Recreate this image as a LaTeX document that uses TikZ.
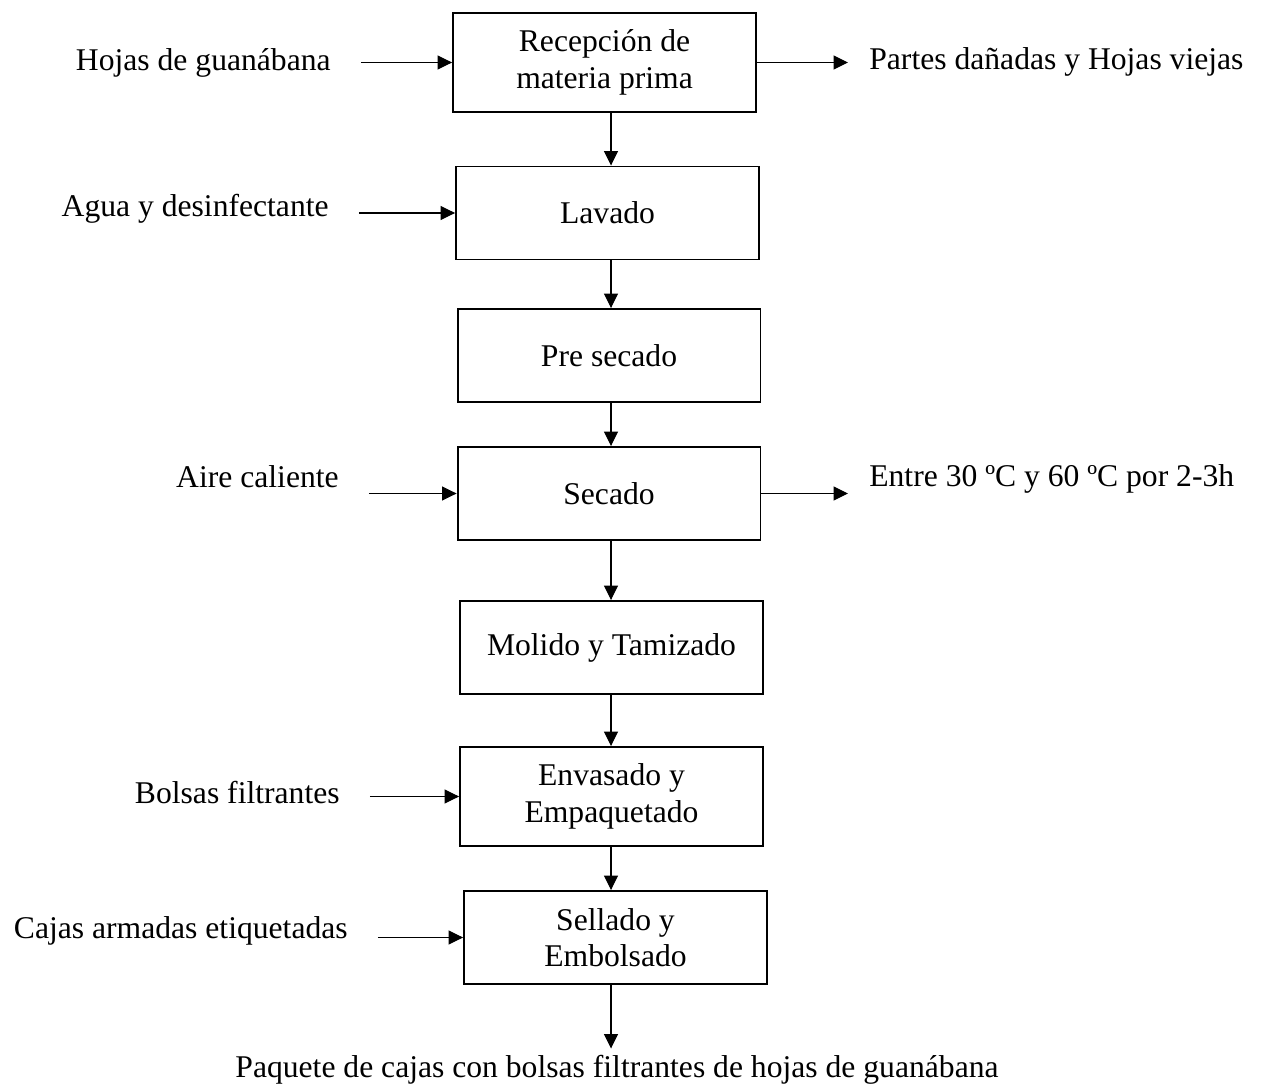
\documentclass[tikz,border=0pt]{standalone}
\usepackage{fontspec}
\setmainfont{Liberation Serif}
\usetikzlibrary{arrows.meta}
\tikzset{
  proceso/.style={
    % The shape:
    rectangle,
    % The size:
    minimum width=6.06cm,
    minimum height=1.86cm,
    % The border:
    line width=1.1pt,
    draw=black,
    % The text:
    align=center},
  entrada/.style={
    % Label at the left of a box
    inner sep=0pt,
    anchor=base east},
  salida/.style={
    % Label at the right of a box
    inner sep=0pt,
    anchor=base west}
}

\begin{document}
\begin{tikzpicture}[x=0.02cm,y=-0.02cm,font=\fontsize{18}{20.7}\selectfont,
                    >={Triangle[length=2.9mm,width=2.8mm]},
                    flow/.style={->,line width=0.6pt},
                    from label/.style={shorten <=6mm},
                    to label/.style={shorten >=4.2mm}]

  \useasboundingbox (0,0) rectangle (1265,1084);
  \coordinate (axis) at (611,0);

  % Process boxes:
  \node (recepcion) [proceso,minimum height=1.98cm] at (604.5,62.5) {Recepción de\\materia prima};
  \node (lavado)    [proceso] at (607.5,213)   {Lavado};
  \node (presecado) [proceso] at (609,355.5)   {Pre secado};
  \node (secado)    [proceso] at (609,493.5)   {Secado};
  \node (molido)    [proceso] at (611.5,647.5) {Molido y Tamizado};
  \node (envasado)  [proceso,minimum height=1.98cm] at (611.5,796.5) {Envasado y\\Empaquetado};
  \node (sellado)   [proceso] at (615.5,937.5) {Sellado y\\Embolsado};

  % Inputs and outputs:
  \node (hojas)  [entrada] at (331,71)  {Hojas de guanábana};
  \node (agua)   [entrada] at (329,217) {Agua y desinfectante};
  \node (aire)   [entrada] at (339,488) {Aire caliente};
  \node (bolsas) [entrada] at (340,803) {Bolsas filtrantes};
  \node (cajas)  [entrada] at (348,938) {Cajas armadas etiquetadas};
  \node (partes) [salida]  at (869,70)  {Partes dañadas y Hojas viejas};
  \node (temp)   [salida]  at (869,487) {Entre 30 ºC y 60 ºC por 2-3h};
  \node (paquete) [anchor=base] at (617,1077) {Paquete de cajas con bolsas filtrantes de hojas de guanábana};

  % Main line:
  \foreach \a/\b in {recepcion/lavado,lavado/presecado,presecado/secado,
                     secado/molido,molido/envasado,envasado/sellado,sellado/paquete}
    \draw[flow] (\a.south -| axis) -- (\b.north -| axis);

  % Side arrows:
  \draw[flow,from label] (hojas.east |- recepcion.west) -- (recepcion.west);
  \draw[flow,from label] (agua.east |- lavado.west)     -- (lavado.west);
  \draw[flow,from label] (aire.east |- secado.west)     -- (secado.west);
  \draw[flow,from label] (bolsas.east |- envasado.west) -- (envasado.west);
  \draw[flow,from label] (cajas.east |- sellado.west)   -- (sellado.west);
  \draw[flow,to label] (recepcion.east) -- (partes.west |- recepcion.east);
  \draw[flow,to label] (secado.east)    -- (temp.west |- secado.east);

\end{tikzpicture}
\end{document}
